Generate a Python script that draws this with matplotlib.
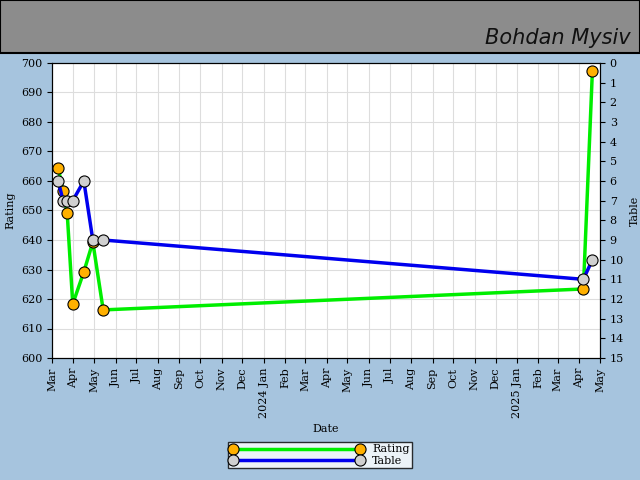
import datetime as dt

import matplotlib.dates as mdates
import matplotlib.pyplot as plt
from matplotlib.patches import Rectangle
from matplotlib.ticker import FuncFormatter

rating_dates = ["2023-03-10", "2023-03-17", "2023-03-23", "2023-03-31", "2023-04-16",
                "2023-04-29", "2023-05-14", "2025-04-07", "2025-04-20"]
rating_values = [664.4, 656.6, 649.0, 618.3, 629.2, 639.3, 616.3, 623.4, 697.3]
table_dates = ["2023-03-10", "2023-03-17", "2023-03-23", "2023-03-31", "2023-04-16",
               "2023-04-29", "2023-05-14", "2025-04-07", "2025-04-20"]
table_values = [6, 7, 7, 7, 6, 9, 9, 11, 10]

rd = [dt.datetime.fromisoformat(d) for d in rating_dates]
td = [dt.datetime.fromisoformat(d) for d in table_dates]


def month_label(x, pos):
    d = mdates.num2date(x)
    return d.strftime("%Y %b") if d.month == 1 else d.strftime("%b")


plt.rcParams["font.family"] = "DejaVu Serif"
bg = "#a6c4de"
fig = plt.figure(figsize=(6.4, 4.8), dpi=100, facecolor=bg)
fig.patches.append(Rectangle((0, 1 - 53 / 480), 1, 53 / 480, transform=fig.transFigure,
                             facecolor="#8c8c8c", edgecolor="black", linewidth=1.5))
fig.text(0.985, 1 - 38 / 480, "Bohdan Mysiv", ha="right", va="center", fontsize=15,
         family="DejaVu Sans", style="italic", fontweight="light", color="#111111")

ax = fig.add_axes([52 / 640, 1 - 358 / 480, 548 / 640, 295 / 480])
ax.set_facecolor("white")
ax.plot(rd, rating_values, color="#00ee00", linewidth=2.5, marker="o", markersize=8,
        markerfacecolor="#ffb000", markeredgecolor="black", markeredgewidth=0.8, zorder=3)
ax.set_ylim(600, 700)
ax.set_yticks(range(600, 701, 10))
ax.set_ylabel("Rating", fontsize=8)
ax.set_xlabel("Date", fontsize=8)
ax.set_xlim(dt.datetime(2023, 3, 1), dt.datetime(2025, 5, 1))
ax.xaxis.set_major_locator(mdates.MonthLocator())
ax.xaxis.set_major_formatter(FuncFormatter(month_label))
ax.tick_params(axis="x", labelrotation=90, labelsize=8)
ax.tick_params(axis="y", labelsize=8)
ax.grid(True, color="#dddddd", linewidth=0.8)
ax.set_axisbelow(True)

ax2 = ax.twinx()
ax2.plot(td, table_values, color="#0000ee", linewidth=2.5, marker="o", markersize=8,
         markerfacecolor="#d0d0d0", markeredgecolor="black", markeredgewidth=0.8, zorder=3)
ax2.set_ylim(15, 0)
ax2.set_yticks(range(0, 16))
ax2.set_ylabel("Table", fontsize=8)
ax2.tick_params(axis="y", labelsize=8)

h1, = ax.plot([], [], color="#00ee00", linewidth=2.5, marker="o", markersize=8,
              markerfacecolor="#ffb000", markeredgecolor="black", markeredgewidth=0.8)
h2, = ax.plot([], [], color="#0000ee", linewidth=2.5, marker="o", markersize=8,
              markerfacecolor="#d0d0d0", markeredgecolor="black", markeredgewidth=0.8)
leg = fig.legend([h1, h2], ["Rating", "Table"], loc="center", bbox_to_anchor=(320 / 640, 1 - 455 / 480),
                 numpoints=2, handlelength=12, fontsize=8, frameon=True, fancybox=False,
                 borderpad=0.2, labelspacing=0.1)
leg.get_frame().set_edgecolor("black")
leg.get_frame().set_facecolor("white")

fig.savefig("out.png", dpi=100, facecolor=bg)
